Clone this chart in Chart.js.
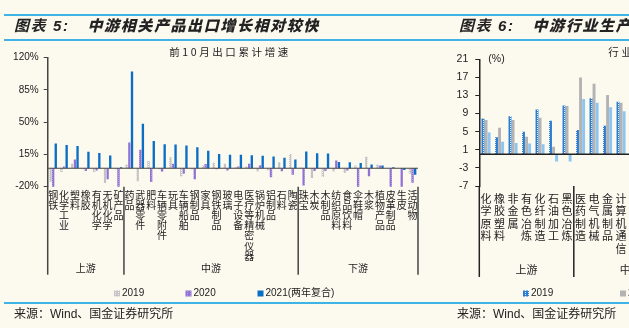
<!DOCTYPE html>
<html lang="zh">
<head>
<meta charset="UTF-8">
<title>图表5 中游相关产品出口增长相对较快</title>
<script src="https://cdn.jsdelivr.net/npm/chart.js"></script>
<style>
  body { margin: 0; width: 629px; height: 328px; overflow: hidden; position: relative;
         background: #fcf9ef; color: #222;
         font-family: 'Liberation Sans', 'Noto Sans CJK SC', sans-serif; }
  .rule { position: absolute; left: 4px; right: 0; height: 2px; background: #3db3e6; z-index: 2; }
  .head { position: absolute; top: 17px; font-size: 15px; line-height: 18px; font-weight: bold;
          font-style: italic; letter-spacing: 1.6px; white-space: nowrap; z-index: 2; }
  .head b { margin-left: 18px; }
  .src { position: absolute; top: 306px; font-size: 12px; line-height: 16px; white-space: nowrap; z-index: 2; }
  canvas { position: absolute; top: 40px; }
  #c5 { left: 0; }
  #c6 { left: 425px; }
</style>
</head>
<body>
<div class="rule" style="top:14px"></div>
<div class="rule" style="top:39px"></div>
<div class="rule" style="top:302px"></div>
<div class="head" style="left:14px">图表 5:<b>中游相关产品出口增长相对较快</b></div>
<div class="head" style="left:459px">图表 6:<b>中游行业生产恢复相对较好</b></div>
<canvas id="c5" width="425" height="269"></canvas>
<canvas id="c6" width="210" height="269"></canvas>
<div class="src" style="left:14px">来源：Wind、国金证券研究所</div>
<div class="src" style="left:457px">来源：Wind、国金证券研究所</div>

<script>
// ---- 图表5 data ----
const cats5 = ['钢铁', '化学工业', '塑料', '橡胶', '有机化学', '无机化学', '矿产品',
  '药品', '武器零件', '肥料', '车辆零附件', '玩具', '车辆船舶', '钢制品', '家具', '钢铁制品',
  '玻璃', '电子设备', '医疗等精密仪器', '锅炉机械', '铝制品', '石料', '陶瓷',
  '珠宝', '木炭', '木制品', '纺织原料', '食品饮料', '伞鞋帽', '木浆', '植物产品', '皮革制品', '生皮', '活动物'];
const groups5 = [['上游', 7], ['中游', 16], ['下游', 11]];
const exp2019 = [-14.5, -4, 5, -1, -4, -16, -1, 4, -14, 8, -1, 12, -9, -1, 3, 6, 5, 1, 2, -3.5, -2.5, 6.5, 15.5,
  0.5, -10.5, -9.5, -3.5, -5, 3, 12.5, 4, 0, 0, -6];
const exp2020 = [-21.5, 2, 9.5, -3, -2.5, -12, -21.5, 28, 20, -15, -3.5, 5, -6, -12, 4.7, -1, -2.5, 2, 5, 3.3, -9.7, -3.2, -7,
  -18.7, -3, -3, 8.3, -2.5, -20.5, -8.7, 3, -21.7, -21.7, -15.8];
const exp2021 = [26.8, 25.3, 24.2, 18, 16.7, 13.8, 1, 105, 48.4, 29.7, 26.2, 25.7, 24.6, 22.8, 19, 15.5, 14.8, 14.6, 14.2, 13.5, 12.8, 11.5, 9.5,
  18.2, 16.3, 15.9, 6.9, 6.5, 5.8, 4, 3, 1, -1.8, -7];
const yTicks5 = [-20, 15, 50, 85, 120];

// ---- 图表6 data ----
const cats6 = ['化学原料', '橡胶塑料', '非金属', '有色冶炼', '化纤制造', '石油加工', '黑色冶炼',
  '医药制造', '电气机械', '金属制品', '计算机通信'];
const groups6 = [['上游', 7], ['中游', 4]];
const ind2019 = [7.9, 3.8, 8.4, 5.0, 9.9, 7.4, 10.8, 5.4, 12.4, 6.3, 11.6];
const ind2020 = [7.6, 5.9, 7.6, 3.9, 8.1, 1.7, 10.7, 17.0, 15.6, 13.1, 11.4];
const ind2021 = [4.8, 2.8, 2.5, 2.4, 2.2, -1.6, -1.6, 12.2, 11.4, 10.4, 9.5];
const yTicks6 = [-7, -3, 1, 5, 9, 13, 17, 21];

Chart.defaults.font.family = '"Liberation Sans", "Noto Sans CJK SC", sans-serif';
Chart.defaults.color = '#222';
Chart.defaults.animation = false;

function pattern(base, dot, w, h, pts) {
  const c = document.createElement('canvas');
  c.width = w; c.height = h;
  const g = c.getContext('2d');
  g.fillStyle = base; g.fillRect(0, 0, w, h);
  g.fillStyle = dot;
  pts.forEach(p => g.fillRect(p[0], p[1], 1, 1));
  return g.createPattern(c, 'repeat');
}

// zero line, group separators and group names under the x axis
function groupFrame(cats, groups, opt) {
  return {
    id: 'groupFrame',
    afterDatasetsDraw(chart) {
      const { ctx, chartArea: a, scales: { x, y } } = chart;
      ctx.save();
      ctx.strokeStyle = opt.color;
      ctx.lineWidth = opt.zeroWidth;
      const y0 = y.getPixelForValue(0);
      ctx.beginPath(); ctx.moveTo(a.left, y0); ctx.lineTo(a.right + opt.zeroExtra, y0); ctx.stroke();

      ctx.lineWidth = opt.sepWidth;
      ctx.fillStyle = '#222';
      ctx.font = opt.groupFont;
      ctx.textBaseline = 'middle';
      const edges = [a.left];
      let start = 0;
      groups.forEach(([name, n], gi) => {
        const end = start + n;
        const right = end < cats.length ? (x.getPixelForValue(end - 1) + x.getPixelForValue(end)) / 2 : a.right;
        const left = edges[edges.length - 1];
        if (opt.openLast && gi === groups.length - 1) {
          ctx.textAlign = 'left';
          ctx.fillText(name, a.right - 8, a.bottom + opt.nameY);
        } else {
          ctx.textAlign = 'center';
          ctx.fillText(name, (left + right) / 2, a.bottom + opt.nameY);
          edges.push(right);
        }
        start = end;
      });
      edges.forEach(ex => {
        ctx.beginPath(); ctx.moveTo(ex, a.bottom); ctx.lineTo(ex, a.bottom + opt.sepLen); ctx.stroke();
      });
      ctx.restore();
    }
  };
}

// small square legend under the chart, one entry per dataset
function boxLegend(xs, dy) {
  return {
    id: 'boxLegend',
    afterDraw(chart) {
      const { ctx, chartArea: a } = chart;
      ctx.save();
      ctx.font = '10px "Liberation Sans", "Noto Sans CJK SC"';
      ctx.textBaseline = 'middle';
      chart.data.datasets.forEach((ds, i) => {
        const x0 = xs[i], yc = a.bottom + dy;
        ctx.fillStyle = ds.backgroundColor;
        ctx.fillRect(x0, yc - 3, 6, 6);
        ctx.fillStyle = '#222';
        ctx.fillText(ds.label, x0 + 8, yc);
      });
      ctx.restore();
    }
  };
}

// ---- 图表5 ----
const ctx5 = document.getElementById('c5').getContext('2d');
new Chart(ctx5, {
  type: 'bar',
  data: {
    labels: cats5,
    datasets: [
      { label: '2019', data: exp2019, backgroundColor: pattern('#c3c3c3', '#f4f4f4', 3, 2, [[1, 0]]) },
      { label: '2020', data: exp2020, backgroundColor: pattern('#9171d2', '#b49fe3', 3, 2, [[1, 1]]) },
      { label: '2021(两年复合)', data: exp2021, backgroundColor: '#0a6ec4' }
    ]
  },
  options: {
    responsive: false,
    categoryPercentage: 0.72,
    barPercentage: 0.9,
    layout: { padding: { left: 0, right: 7, top: 17.7, bottom: 42.3 } },
    plugins: { tooltip: { enabled: false }, legend: { display: false } },
    scales: {
      x: {
        grid: { display: false, drawTicks: false },
        border: { display: false },
        ticks: {
          autoSkip: false, maxRotation: 0, minRotation: 0, padding: 3,
          font: { size: 10, family: '"Noto Sans CJK SC"', lineHeight: 1.02 },
          callback: (v, i) => cats5[i].split('')
        },
        afterFit: s => { s.height = 80; }
      },
      y: {
        min: -20, max: 120,
        afterBuildTicks: s => { s.ticks = yTicks5.map(v => ({ value: v })); },
        grid: { drawOnChartArea: false, tickLength: 4, color: '#444' },
        border: { color: '#444', width: 1.5 },
        ticks: { padding: 5, font: { size: 10 }, callback: v => v + '%' },
        afterFit: s => { s.width = 47.7; }
      }
    }
  },
  plugins: [
    groupFrame(cats5, groups5, { color: '#444', zeroWidth: 1.2, zeroExtra: 0, sepWidth: 1.5, sepLen: 88, nameY: 82,
      groupFont: '10px "Noto Sans CJK SC"', openLast: false }),
    boxLegend([114, 185.5, 257.5], 106.8),
    {
      id: 'title5',
      afterDraw(chart) {
        const { ctx, chartArea: a } = chart;
        ctx.save();
        ctx.font = '10.5px "Noto Sans CJK SC"';
        ctx.letterSpacing = '2.6px';
        ctx.fillStyle = '#222';
        ctx.textAlign = 'center';
        ctx.textBaseline = 'middle';
        ctx.fillText('前10月出口累计增速', 230, a.top - 6);
        ctx.restore();
      }
    }
  ]
});

// ---- 图表6 (cut at the right edge) ----
const ctx6 = document.getElementById('c6').getContext('2d');
new Chart(ctx6, {
  type: 'bar',
  data: {
    labels: cats6,
    datasets: [
      { label: '2019', data: ind2019, backgroundColor: pattern('#2b7dd2', '#e9f2fb', 3, 2, [[1, 0]]) },
      { label: '2020', data: ind2020, backgroundColor: '#b3b3b3' },
      { label: '2021', data: ind2021, backgroundColor: '#8cc4f2' }
    ]
  },
  options: {
    responsive: false,
    categoryPercentage: 0.68,
    barPercentage: 0.95,
    layout: { padding: { left: 0, right: 7.2, top: 19.3, bottom: 43 } },
    plugins: { tooltip: { enabled: false }, legend: { display: false } },
    scales: {
      x: {
        grid: { display: false, drawTicks: false },
        border: { display: false },
        ticks: {
          autoSkip: false, maxRotation: 0, minRotation: 0, padding: 6,
          font: { size: 11, family: '"Noto Sans CJK SC"', lineHeight: 1.15 },
          callback: (v, i) => cats6[i].split('')
        },
        afterFit: s => { s.height = 80; }
      },
      y: {
        min: -7, max: 21,
        afterBuildTicks: s => { s.ticks = yTicks6.map(v => ({ value: v })); },
        grid: { drawOnChartArea: false, tickLength: 4, color: '#222' },
        border: { color: '#222', width: 1.5 },
        ticks: { padding: 7, font: { size: 10.5 } },
        afterFit: s => { s.width = 54.3; }
      }
    }
  },
  plugins: [
    groupFrame(cats6, groups6, { color: '#222', zeroWidth: 1.5, zeroExtra: 4, sepWidth: 1.5, sepLen: 91, nameY: 84,
      groupFont: '11px "Noto Sans CJK SC"', openLast: true }),
    boxLegend([98, 195, 292], 107.5),
    {
      id: 'extras6',
      afterDraw(chart) {
        const { ctx, chartArea: a } = chart;
        ctx.save();
        ctx.fillStyle = '#222';
        ctx.textBaseline = 'middle';
        ctx.font = '10.5px "Liberation Sans"';
        ctx.fillText('(%)', a.left + 9, a.top);
        ctx.font = '10.5px "Noto Sans CJK SC"';
        ctx.letterSpacing = '2.6px';
        ctx.fillText('行业增加值累计同比', a.left + 129, a.top - 7);
        ctx.restore();
      }
    }
  ]
});
</script>
</body>
</html>
